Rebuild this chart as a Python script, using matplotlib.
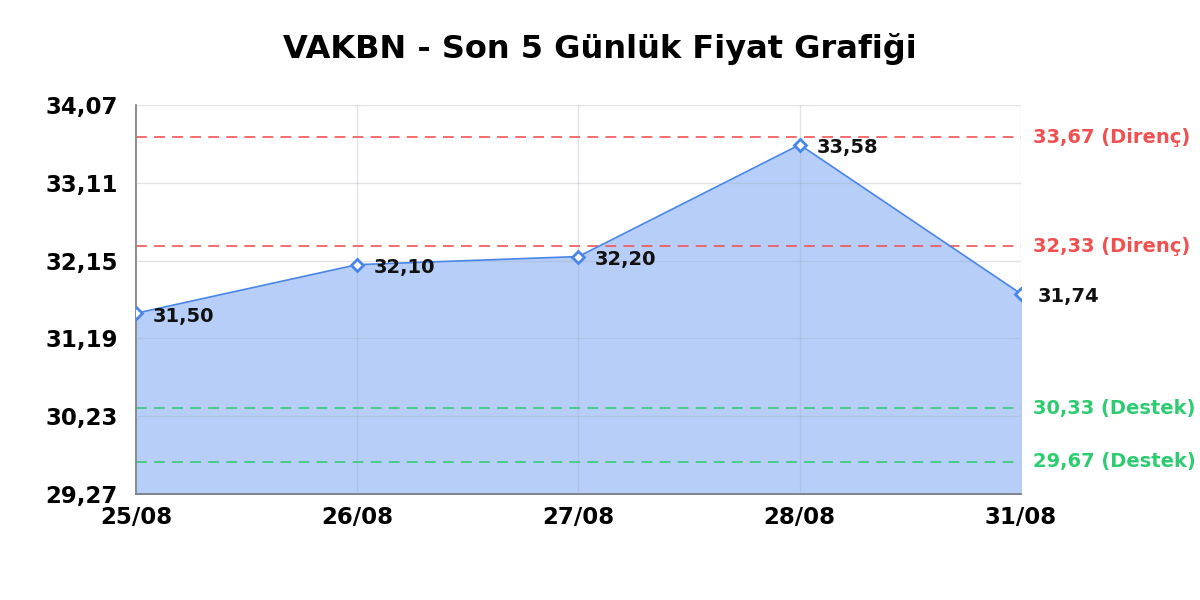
import numpy as np
import matplotlib.pyplot as plt

# Price data
dates = ['25/08', '26/08', '27/08', '28/08', '31/08']
prices = [31.50, 32.10, 32.20, 33.58, 31.74]
resistance = [33.67, 32.33]
support = [30.33, 29.67]
yticks = [29.27, 30.23, 31.19, 32.15, 33.11, 34.07]

line_col = '#4a86e8'
fill_col = '#b7cff8'
red = '#f05050'
green = '#2ecc71'

fig = plt.figure(figsize=(12, 6), dpi=100)
ax = fig.add_axes([0.1133, 0.1767, 0.7375, 0.6483])

x = np.arange(len(dates))
ax.fill_between(x, prices, yticks[0], color=fill_col, zorder=1)
ax.plot(x, prices, color=line_col, lw=1.2, zorder=3)
ax.plot(x, prices, 'D', ms=6, mfc='white', mec=line_col, mew=2, zorder=4)

for xi, p in zip(x, prices):
    ax.annotate(f'{p:.2f}'.replace('.', ','), (xi, p), xytext=(12, -2),
                textcoords='offset points', va='center', ha='left',
                fontsize=14, fontweight='bold', color='#111111', zorder=5)

for lvl in resistance:
    ax.axhline(lvl, color=red, ls=(0, (6, 4)), lw=1.3, alpha=0.9, zorder=2)
    ax.annotate(f'{lvl:.2f} (Direnç)'.replace('.', ','), (1, lvl),
                xycoords=('axes fraction', 'data'), xytext=(9, 0),
                textcoords='offset points', va='center', ha='left',
                fontsize=14, fontweight='bold', color=red)
for lvl in support:
    ax.axhline(lvl, color=green, ls=(0, (6, 4)), lw=1.3, alpha=0.9, zorder=2)
    ax.annotate(f'{lvl:.2f} (Destek)'.replace('.', ','), (1, lvl),
                xycoords=('axes fraction', 'data'), xytext=(9, 0),
                textcoords='offset points', va='center', ha='left',
                fontsize=14, fontweight='bold', color=green)

ax.set_xlim(0, len(dates) - 1)
ax.set_ylim(yticks[0], yticks[-1])
ax.set_xticks(x)
ax.set_xticklabels(dates)
ax.set_yticks(yticks)
ax.set_yticklabels([f'{t:.2f}'.replace('.', ',') for t in yticks])
ax.tick_params(axis='y', length=0, labelsize=16.5, pad=13)
ax.tick_params(axis='x', length=0, labelsize=16.5, pad=9)
for lab in ax.get_xticklabels() + ax.get_yticklabels():
    lab.set_fontweight('bold')

ax.grid(True, color='#9aa6b8', alpha=0.3, lw=1)
ax.set_axisbelow(False)
for s in ['top', 'right']:
    ax.spines[s].set_visible(False)
for s in ['left', 'bottom']:
    ax.spines[s].set_color('#777777')
    ax.spines[s].set_linewidth(1.2)

fig.suptitle('VAKBN - Son 5 Günlük Fiyat Grafiği', y=0.945, fontsize=23,
             fontweight='bold')

plt.savefig('out.png')
